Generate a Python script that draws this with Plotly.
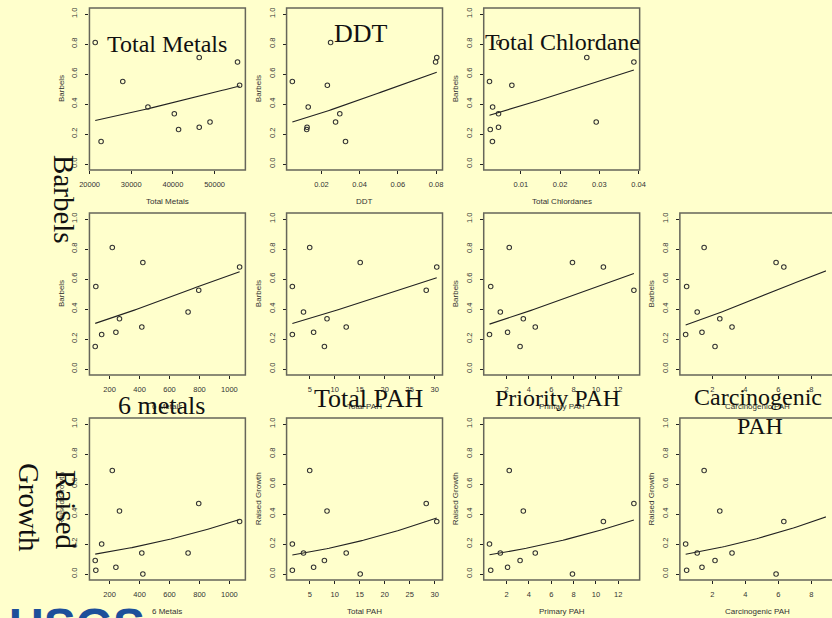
import numpy as np
import plotly.graph_objects as go

W, H = 832, 618
BG = "#FFFFCC"

# ---- data: 11 sites (same order in every array) ----
barbels = [0.15, 0.55, 0.23, 0.81, 0.245, 0.335, 0.28, 0.71, 0.38, 0.525, 0.68]
raised_growth = [0.09, 0.025, 0.20, 0.69, 0.045, 0.42, 0.14, 0.0, 0.14, 0.47, 0.35]

total_metals = [22760, 27960, 41350, 21350, 46310, 40330, 48900, 46310, 34000, 56000, 55500]
ddt = [0.0326, 0.0048, 0.0123, 0.0248, 0.0125, 0.0296, 0.0274, 0.0803, 0.0131, 0.0231, 0.0797]
total_chlordanes = [0.00275, 0.0020, 0.0022, 0.0044, 0.0043, 0.0043, 0.0292, 0.0268, 0.0028, 0.0077, 0.0388]
six_metals = [104, 108, 147, 218, 242, 266, 415, 422, 724, 795, 1068]
total_pah = [7.94, 1.53, 1.53, 5.0, 5.78, 8.46, 12.3, 15.1, 3.76, 28.3, 30.4]
primary_pah = [3.21, 0.58, 0.47, 2.24, 2.09, 3.5, 4.57, 7.9, 1.44, 13.4, 10.67]
carcinogenic_pah = [2.17, 0.45, 0.39, 1.51, 1.38, 2.46, 3.2, 5.87, 1.09, 9.14, 6.34]

# tick values per x variable
ticks_total_metals = [20000, 30000, 40000, 50000]
ticks_ddt = [0.02, 0.04, 0.06, 0.08]
ticks_chlordanes = [0.01, 0.02, 0.03, 0.04]
ticks_six_metals = [200, 400, 600, 800, 1000]
ticks_total_pah = [5, 10, 15, 20, 25, 30]
ticks_primary_pah = [2, 4, 6, 8, 10, 12]
ticks_carc_pah = [2, 4, 6, 8]
y_ticks = [0.0, 0.2, 0.4, 0.6, 0.8, 1.0]

# fitted logistic curves (logit scale: a + b*x), one per panel
fit_a = [-1.496, -1.033, -0.799, -0.982, -0.899, -0.902, -0.946, -2.019, -2.009, -1.969, -1.947]
fit_b = [2.814e-5, 18.53, 33.97, 0.001491, 0.04414, 0.1092, 0.178, 0.001363, 0.0491, 0.1042, 0.1638]

# panels: (row, col, x values, x ticks, x tick format, x title, y values, y title)
panels = [
    (0, 0, total_metals, ticks_total_metals, "{:d}", "Total Metals", barbels, "Barbels"),
    (0, 1, ddt, ticks_ddt, "{:.2f}", "DDT", barbels, "Barbels"),
    (0, 2, total_chlordanes, ticks_chlordanes, "{:.2f}", "Total Chlordanes", barbels, "Barbels"),
    (1, 0, six_metals, ticks_six_metals, "{:d}", "6 Metals", barbels, "Barbels"),
    (1, 1, total_pah, ticks_total_pah, "{:d}", "Total PAH", barbels, "Barbels"),
    (1, 2, primary_pah, ticks_primary_pah, "{:d}", "Primary PAH", barbels, "Barbels"),
    (1, 3, carcinogenic_pah, ticks_carc_pah, "{:d}", "Carcinogenic PAH", barbels, "Barbels"),
    (2, 0, six_metals, ticks_six_metals, "{:d}", "6 Metals", raised_growth, "Raised Growth"),
    (2, 1, total_pah, ticks_total_pah, "{:d}", "Total PAH", raised_growth, "Raised Growth"),
    (2, 2, primary_pah, ticks_primary_pah, "{:d}", "Primary PAH", raised_growth, "Raised Growth"),
    (2, 3, carcinogenic_pah, ticks_carc_pah, "{:d}", "Carcinogenic PAH", raised_growth, "Raised Growth"),
]

# ---- layout geometry (pixels) ----
col_left = [81, 282, 483, 683]
row_top = [8, 213, 418]
BOX_W, BOX_H = 159, 162

SANS = "Liberation Sans, Arial, sans-serif"
SERIF = "Liberation Serif, Times New Roman, serif"

fig = go.Figure()
layout = dict(
    width=W, height=H, margin=dict(l=0, r=0, t=0, b=0),
    paper_bgcolor=BG, plot_bgcolor=BG, showlegend=False,
)
shapes = []
annotations = []


def px(xp):
    return xp / W


def py(yp):
    return 1 - yp / H


for i, (r, c, xv, xt, fmt, xtitle, yv, ytitle) in enumerate(panels):
    k = i + 1
    xs = "" if k == 1 else str(k)
    left, top = col_left[c], row_top[r]
    right_vis = min(left + BOX_W, W)
    xv_arr = np.array(xv, dtype=float)
    lo, hi = xv_arr.min(), xv_arr.max()
    span = hi - lo
    rlo, rhi = lo - 0.04 * span, hi + 0.04 * span
    frac = (right_vis - left) / BOX_W
    rhi_vis = rlo + (rhi - rlo) * frac

    layout["xaxis" + xs] = dict(
        domain=[px(left), px(right_vis)], anchor="y" + xs, range=[rlo, rhi_vis],
        tickvals=xt, ticktext=[fmt.format(t) for t in xt],
        ticks="outside", ticklen=3, tickwidth=1, tickcolor="#222",
        showgrid=False, zeroline=False, showline=False,
        tickfont=dict(family=SANS, size=7.5, color="#333"), ticklabelstandoff=4,
    )
    layout["yaxis" + xs] = dict(
        domain=[py(top + BOX_H), py(top)], anchor="x" + xs, range=[-0.04, 1.04],
        tickvals=y_ticks, ticktext=["{:.1f}".format(t) for t in y_ticks], tickangle=-90,
        ticks="outside", ticklen=3, tickwidth=1, tickcolor="#222",
        showgrid=False, zeroline=False, showline=False,
        tickfont=dict(family=SANS, size=7.5, color="#333"), ticklabelstandoff=5,
    )
    # frame box
    shapes.append(dict(
        type="rect", xref="x" + xs + " domain", yref="y" + xs + " domain",
        x0=0, x1=1 / frac, y0=0, y1=1, line=dict(color="#66665a", width=1.5),
        layer="above",
    ))
    # fitted curve
    xx = np.linspace(lo, hi, 60)
    yy = 1 / (1 + np.exp(-(fit_a[i] + fit_b[i] * xx)))
    fig.add_trace(go.Scatter(x=xx, y=yy, mode="lines", xaxis="x" + xs, yaxis="y" + xs,
                             line=dict(color="#222", width=1.1), hoverinfo="skip"))
    # points
    fig.add_trace(go.Scatter(x=xv, y=yv, mode="markers", xaxis="x" + xs, yaxis="y" + xs,
                             marker=dict(symbol="circle-open", size=4.5, color="#333",
                                         line=dict(color="#333", width=1.1))))
    # axis titles (small)
    annotations.append(dict(
        text=xtitle, x=px(left + BOX_W / 2), y=py(top + BOX_H + 31), xref="paper", yref="paper",
        showarrow=False, xanchor="center", yanchor="middle",
        font=dict(family=SANS, size=8, color="#333"),
    ))
    annotations.append(dict(
        text=ytitle, x=px(left - 29), y=py(top + BOX_H / 2), xref="paper", yref="paper",
        showarrow=False, xanchor="center", yanchor="middle", textangle=-90,
        font=dict(family=SANS, size=8, color="#333"),
    ))

# big slide labels (serif)
big_labels = [
    ("Total Metals", 160.5, 44.3, 24, 0),
    ("DDT", 358, 33.5, 26, 0),
    ("Total Chlordane", 563, 42, 24, 0),
    ("Barbels", 55, 200, 29, 90),
    ("6 metals", 154, 405, 26, 0),
    ("Total PAH", 366, 398, 26, 0),
    ("Priority PAH", 558.5, 398, 24, 0),
    ("Carcinogenic", 762.5, 397, 24, 0),
    ("PAH", 765, 426, 24, 0),
    ("Raised", 57, 510, 29, 90),
    ("Growth", 19.5, 507, 29, 90),
]
for text, xc, yc, size, ang in big_labels:
    annotations.append(dict(
        text=text, x=px(xc), y=py(yc), xref="paper", yref="paper", showarrow=False,
        xanchor="center", yanchor="middle", textangle=ang,
        font=dict(family=SERIF, size=size, color="#111"),
    ))

# partially visible logo at bottom-left
annotations.append(dict(
    text="<b>USGS</b>", x=px(68), y=py(597), xref="paper", yref="paper", showarrow=False,
    xanchor="center", yanchor="top", font=dict(family=SANS, size=48, color="#1d4f9a"),
))

layout["shapes"] = shapes
layout["annotations"] = annotations
fig.update_layout(**layout)
fig.write_html("out.html")
